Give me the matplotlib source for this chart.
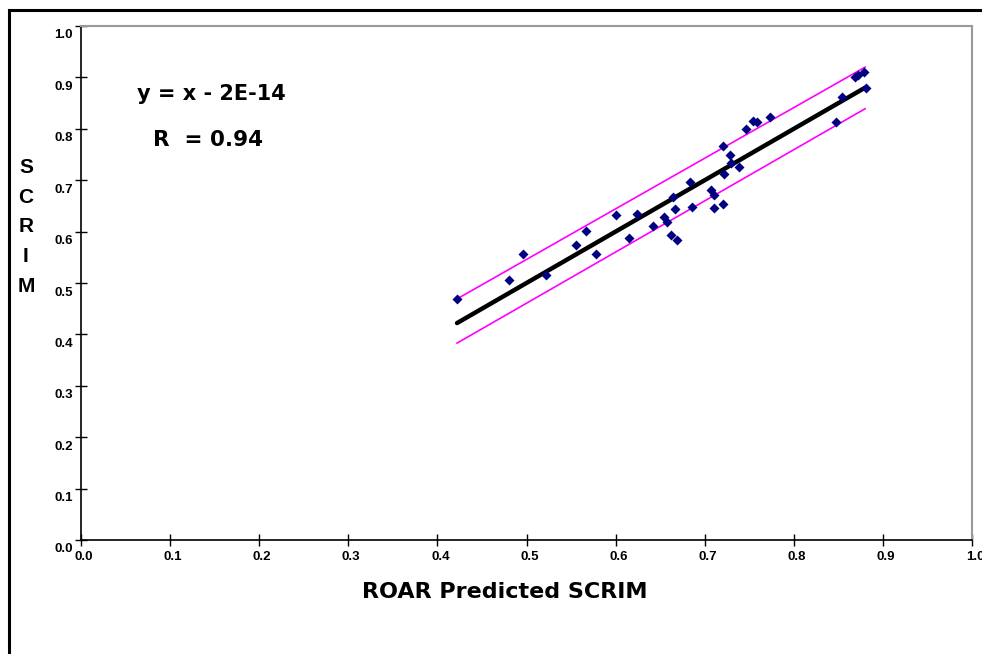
import matplotlib
matplotlib.use("Agg")
import matplotlib.pyplot as plt
import matplotlib.transforms as mtransforms
import numpy as np

# ROAR predicted SCRIM (x) vs measured SCRIM (y)
roar_pred = [0.422, 0.480, 0.496, 0.522, 0.556, 0.567, 0.578, 0.600, 0.615, 0.624,
             0.642, 0.654, 0.658, 0.662, 0.669, 0.667, 0.664, 0.684, 0.686, 0.707,
             0.710, 0.710, 0.720, 0.722, 0.721, 0.728, 0.730, 0.738, 0.746, 0.754,
             0.759, 0.773, 0.847, 0.854, 0.869, 0.872, 0.879, 0.881]
scrim = [0.469, 0.505, 0.557, 0.515, 0.573, 0.601, 0.557, 0.632, 0.588, 0.635,
         0.610, 0.628, 0.619, 0.594, 0.583, 0.643, 0.668, 0.697, 0.648, 0.681,
         0.671, 0.645, 0.653, 0.713, 0.767, 0.750, 0.734, 0.726, 0.799, 0.815,
         0.813, 0.822, 0.813, 0.862, 0.900, 0.904, 0.910, 0.879]

fit_x = [0.422, 0.880]
fit_y = [0.422, 0.880]
upper_y = [0.469, 0.920]
lower_y = [0.383, 0.839]

plt.rcParams['font.family'] = ['Liberation Sans', 'DejaVu Sans']
big = ['DejaVu Sans']

fig = plt.figure(figsize=(9.82, 6.54), dpi=100)
ax = fig.add_axes([81 / 982, 1 - 540 / 654, 891 / 982, 514 / 654])

ax.plot(fit_x, upper_y, color='#ff00ff', lw=1.2, zorder=2)
ax.plot(fit_x, lower_y, color='#ff00ff', lw=1.2, zorder=2)
ax.plot(fit_x, fit_y, color='black', lw=3.2, solid_capstyle='round', zorder=3)
ax.scatter(roar_pred, scrim, marker='D', s=26, color='#000080', zorder=4, linewidths=0)

ax.set_xlim(0, 1)
ax.set_ylim(0, 1)
ticks = np.round(np.arange(0, 1.01, 0.1), 1)
ax.set_xticks(ticks)
ax.set_yticks(ticks)
ax.set_xticklabels([f"{t:.1f}" for t in ticks], fontsize=9.5, fontweight='bold')
ax.set_yticklabels([f"{t:.1f}" for t in ticks], fontsize=9.5, fontweight='bold')
ax.tick_params(direction='inout', length=8, width=1)
ax.tick_params(axis='x', pad=4)
ax.tick_params(axis='y', pad=2)

# labels sit a little off their ticks in the original
for lab in ax.get_xticklabels():
    lab.set_transform(lab.get_transform() + mtransforms.ScaledTranslation(3 / 100, 0, fig.dpi_scale_trans))
for lab in ax.get_yticklabels():
    lab.set_transform(lab.get_transform() + mtransforms.ScaledTranslation(0, -8 / 100, fig.dpi_scale_trans))

ax.spines['left'].set_linewidth(1.2)
ax.spines['bottom'].set_linewidth(1.2)
for side in ('top', 'right'):
    ax.spines[side].set_color('#999999')
    ax.spines[side].set_linewidth(1.5)

fig.text(505 / 982, 1 - 598 / 654, "ROAR Predicted SCRIM", fontsize=16, fontweight='bold',
         family=big, ha='center', va='baseline')

ax.text(0.063, 0.856, "y = x - 2E-14", transform=ax.transAxes, fontsize=15,
        fontweight='bold', family=big, ha='left', va='baseline')
ax.text(0.081, 0.767, "R  = 0.94", transform=ax.transAxes, fontsize=15.5,
        fontweight='bold', family=big, ha='left', va='baseline')

fig.text(26 / 982, 1 - 227 / 654, "S\nC\nR\nI\nM", fontsize=15, fontweight='bold',
         ha='center', va='center', linespacing=1.72)

# outer frame (left and top edges visible)
fig.add_artist(plt.Line2D([9 / 982, 9 / 982], [0, 1 - 9.5 / 654], color='black', lw=2.2,
                          transform=fig.transFigure))
fig.add_artist(plt.Line2D([9 / 982, 1], [1 - 9.5 / 654, 1 - 9.5 / 654], color='black', lw=2.2,
                          transform=fig.transFigure))

fig.savefig("out.png", dpi=100)
